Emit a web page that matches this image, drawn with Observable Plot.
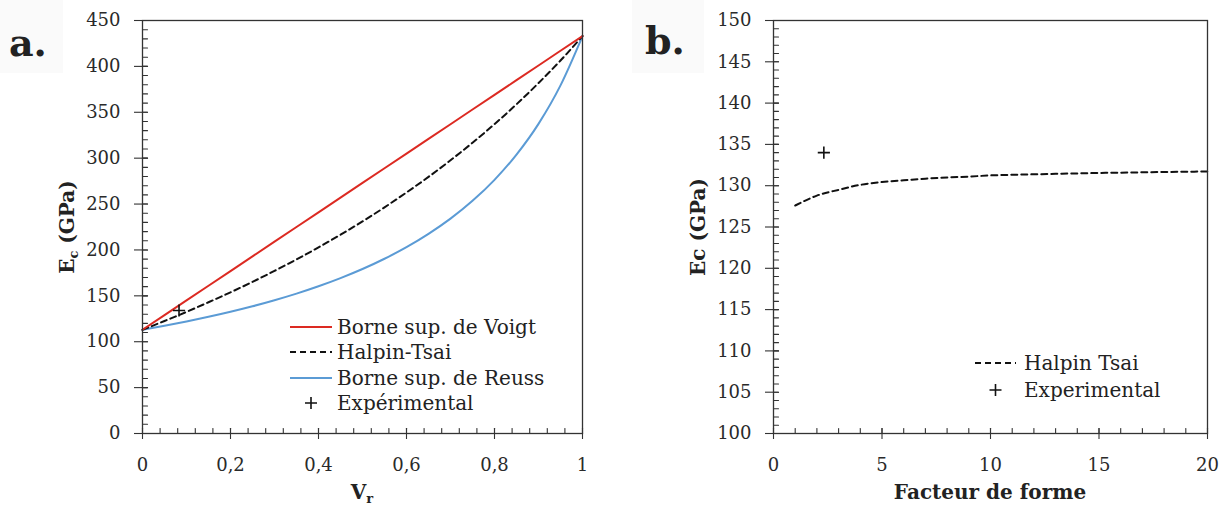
<!DOCTYPE html>
<html>
<head>
<meta charset="utf-8">
<script src="https://cdn.jsdelivr.net/npm/d3@7"></script>
<script src="https://cdn.jsdelivr.net/npm/@observablehq/plot@0.6"></script>
<style>
  html, body { margin: 0; padding: 0; background: #fff; }
  #wrap { position: relative; width: 1227px; height: 510px; overflow: hidden; font-family: "DejaVu Serif", serif; color: #222; }
  .abs { position: absolute; }
  .panel { font-size: 38px; font-weight: bold; line-height: 1; }
  .box { background: #fafafa; }
  .xlab { font-size: 20px; font-weight: bold; line-height: 1; text-align: center; white-space: nowrap; }
  .ylab { font-size: 20px; font-weight: bold; line-height: 1; white-space: nowrap; transform: translate(-50%, -50%) rotate(-90deg); }
  .leg { font-size: 20px; }
  .row { display: flex; align-items: center; white-space: nowrap; }
  .row svg { flex: none; }
  sub { font-size: 13px; vertical-align: -4px; line-height: 0; }
</style>
</head>
<body>
<div id="wrap">
  <div class="abs box" style="left:0;top:0;width:63px;height:73px"></div>
  <div class="abs box" style="left:632px;top:0;width:72px;height:73px"></div>
  <div id="left" class="abs" style="left:0;top:0"></div>
  <div id="right" class="abs" style="left:613px;top:0"></div>
  <div class="abs panel" style="left:9px;top:24px">a.</div>
  <div class="abs panel" style="left:645px;top:22px">b.</div>
  <div class="abs xlab" style="left:312px;top:482px;width:100px">V<sub>r</sub></div>
  <div class="abs xlab" style="left:890px;top:482px;width:200px">Facteur de forme</div>
  <div class="abs ylab" style="left:67px;top:227px">E<sub>c</sub> (GPa)</div>
  <div class="abs ylab" style="left:698px;top:227px">Ec (GPa)</div>
  <div id="legA" class="abs leg" style="left:290px;top:314px"></div>
  <div id="legB" class="abs leg" style="left:975px;top:349px"></div>
</div>
<script>
// ---- Panel a: E_c versus V_r ----
const vr = [0, 0.05, 0.1, 0.15, 0.2, 0.25, 0.3, 0.35, 0.4, 0.45, 0.5, 0.55, 0.6, 0.65, 0.7, 0.75, 0.8, 0.85, 0.9, 0.95, 1];
const voigt = [113, 129, 145, 161, 177, 193, 209, 225, 241, 257, 273, 289, 305, 321, 337, 353, 369, 385, 401, 417, 433];
const halpinTsaiA = [113, 122.6, 132.5, 143.0, 153.8, 165.2, 177.2, 189.7, 202.8, 216.6, 231.1, 246.4, 262.6, 279.6, 297.7, 316.8, 337.1, 358.7, 381.8, 406.4, 433];
const reuss = [113, 117.3, 122.0, 127.1, 132.6, 138.6, 145.2, 152.4, 160.4, 169.3, 179.2, 190.4, 203.0, 217.5, 234.1, 253.5, 276.4, 303.9, 337.4, 379.3, 433];
const expVr = [0.083];
const expEcA = [134];

// ---- Panel b: Ec versus facteur de forme ----
const facteur = [1, 2, 3, 4, 5, 6, 7, 8, 9, 10, 11, 12, 13, 14, 15, 16, 17, 18, 19, 20];
const halpinTsaiB = [127.6, 128.8, 129.5, 130.1, 130.45, 130.65, 130.85, 131.0, 131.1, 131.25, 131.32, 131.38, 131.44, 131.49, 131.54, 131.58, 131.62, 131.66, 131.69, 131.72];
const expFacteur = [2.32];
const expEcB = [134];

// ---- tick labels ----
const ticksAx = [0, 0.2, 0.4, 0.6, 0.8, 1];
const ticksAy = [0, 50, 100, 150, 200, 250, 300, 350, 400, 450];
const ticksBx = [0, 5, 10, 15, 20];
const ticksBy = [100, 105, 110, 115, 120, 125, 130, 135, 140, 145, 150];

const minorAx = d3.range(0, 25).map(i => i * 0.04).filter(v => v > 0 && v < 1);
const minorAy = d3.range(10, 450, 10);
const minorBx = d3.range(1, 20, 1);
const minorBy = d3.range(101, 150, 1);

const dataA = vr.map((v, i) => ({vr: v, voigt: voigt[i], ht: halpinTsaiA[i], reuss: reuss[i]}));
const expA = expVr.map((v, i) => ({vr: v, ec: expEcA[i]}));
const dataB = facteur.map((f, i) => ({f, ec: halpinTsaiB[i]}));
const expB = expFacteur.map((f, i) => ({f, ec: expEcB[i]}));

const RED = "#dc2a22", BLUE = "#5b9bd5", AXIS = "#333";
const tickShape = {draw(context, l) { context.moveTo(0, 0); context.lineTo(0, -l); }};
const style = {fontFamily: "DejaVu Serif", fontSize: "18px", color: AXIS, background: "transparent", overflow: "visible"};

function inwardY(values) {
  return Plot.vector(values, {y: d => d, frameAnchor: "left", length: 5, rotate: 90, anchor: "start", shape: tickShape, stroke: AXIS, strokeWidth: 1.1});
}
function inwardX(values) {
  return Plot.vector(values, {x: d => d, frameAnchor: "bottom", length: 5, rotate: 0, anchor: "start", shape: tickShape, stroke: AXIS, strokeWidth: 1.1});
}

const plotA = Plot.plot({
  width: 613, height: 510,
  marginLeft: 142, marginRight: 31, marginTop: 20, marginBottom: 77,
  style,
  x: {domain: [0, 1]},
  y: {domain: [0, 450]},
  marks: [
    Plot.axisY({ticks: ticksAy, tickSize: 8, tickPadding: 14, label: null, strokeWidth: 1.1, fill: "#2a2a2a"}),
    Plot.axisX({ticks: ticksAx, tickSize: 6, tickPadding: 19, label: null, strokeWidth: 1.1, fill: "#2a2a2a", tickFormat: d => String(d).replace(".", ",")}),
    inwardY(ticksAy.concat(minorAy)),
    inwardX(ticksAx.concat(minorAx)),
    Plot.line(dataA, {x: "vr", y: "reuss", stroke: BLUE, strokeWidth: 2, curve: "monotone-x"}),
    Plot.line(dataA, {x: "vr", y: "ht", stroke: "#111", strokeWidth: 2, strokeDasharray: "6,4", curve: "monotone-x"}),
    Plot.line(dataA, {x: "vr", y: "voigt", stroke: RED, strokeWidth: 2}),
    Plot.dot(expA, {x: "vr", y: "ec", symbol: "plus", r: 4, stroke: "#111", strokeWidth: 1.6}),
    Plot.frame({stroke: AXIS, strokeWidth: 1.3})
  ]
});
document.getElementById("left").appendChild(plotA);

const plotB = Plot.plot({
  width: 614, height: 510,
  marginLeft: 160, marginRight: 20, marginTop: 20, marginBottom: 77,
  style,
  x: {domain: [0, 20]},
  y: {domain: [100, 150]},
  marks: [
    Plot.axisY({ticks: ticksBy, tickSize: 8, tickPadding: 14, label: null, strokeWidth: 1.1, fill: "#2a2a2a"}),
    Plot.axisX({ticks: ticksBx, tickSize: 6, tickPadding: 19, label: null, strokeWidth: 1.1, fill: "#2a2a2a"}),
    inwardY(ticksBy.concat(minorBy)),
    inwardX(ticksBx.concat(minorBx)),
    Plot.line(dataB, {x: "f", y: "ec", stroke: "#111", strokeWidth: 2, strokeDasharray: "6,4", curve: "monotone-x"}),
    Plot.dot(expB, {x: "f", y: "ec", symbol: "plus", r: 4, stroke: "#111", strokeWidth: 1.6}),
    Plot.frame({stroke: AXIS, strokeWidth: 1.3})
  ]
});
document.getElementById("right").appendChild(plotB);

// ---- legends ----
const legendA = [
  {label: "Borne sup. de Voigt", kind: "line", color: RED, dash: null},
  {label: "Halpin-Tsai", kind: "line", color: "#111", dash: "6,4"},
  {label: "Borne sup. de Reuss", kind: "line", color: BLUE, dash: null},
  {label: "Expérimental", kind: "plus"}
];
const legendB = [
  {label: "Halpin Tsai", kind: "line", color: "#111", dash: "6,4"},
  {label: "Experimental", kind: "plus"}
];
function buildLegend(el, items, sw, gap, rowH) {
  for (const it of items) {
    const row = document.createElement("div");
    row.className = "row";
    row.style.height = rowH + "px";
    const c = sw / 2;
    let inner;
    if (it.kind === "line") {
      inner = `<line x1="0" y1="6" x2="${sw}" y2="6" stroke="${it.color}" stroke-width="2" ${it.dash ? `stroke-dasharray="${it.dash}"` : ""}/>`;
    } else {
      inner = `<path d="M${c - 6},6H${c + 6}M${c},0V12" stroke="#111" stroke-width="1.6" fill="none"/>`;
    }
    row.innerHTML = `<svg width="${sw}" height="12" style="margin-right:${gap}px">${inner}</svg><span>${it.label}</span>`;
    el.appendChild(row);
  }
}
buildLegend(document.getElementById("legA"), legendA, 42, 5, 25.5);
buildLegend(document.getElementById("legB"), legendB, 41, 8, 27);
</script>
</body>
</html>
